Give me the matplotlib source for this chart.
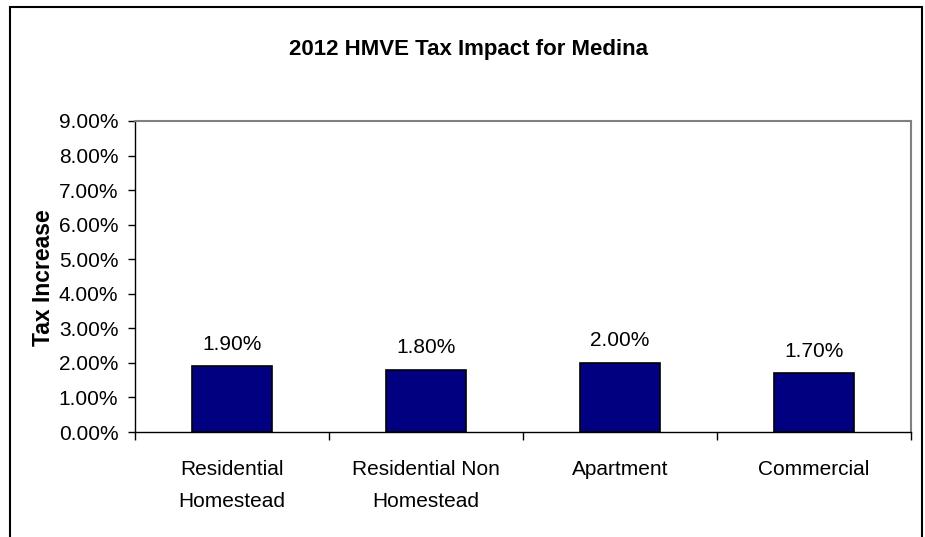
import matplotlib.pyplot as plt
from matplotlib.patches import Rectangle
from matplotlib.ticker import FuncFormatter
import numpy as np

categories = ["Residential\nHomestead", "Residential Non\nHomestead", "Apartment", "Commercial"]
tax_increase = [1.90, 1.80, 2.00, 1.70]
y_ticks = [0, 1, 2, 3, 4, 5, 6, 7, 8, 9]

plt.rcParams['font.family'] = ['Liberation Sans', 'DejaVu Sans']

fs_tick = 15
fs_title = 16
fs_ylab = 16.5

W, H = 925, 537
fig = plt.figure(figsize=(W / 100, H / 100), dpi=100)

# outer chart frame (bottom edge falls outside the image)
fig.patches.append(Rectangle((10 / W, -0.05), 912 / W, (H - 7) / H + 0.05,
                             transform=fig.transFigure, fill=False,
                             edgecolor='black', linewidth=1.5))

left, right, top, bottom = 135, 911, 121, 432
ax = fig.add_axes([left / W, 1 - bottom / H, (right - left) / W, (bottom - top) / H])

x = np.arange(len(categories))
ax.bar(x, tax_increase, width=0.41, color='#000080', edgecolor='black', linewidth=1.2)
for xi, v in zip(x, tax_increase):
    ax.text(xi, v + 0.48, f"{v:.2f}%", ha='center', va='baseline', fontsize=fs_tick)

ax.set_xlim(-0.5, len(categories) - 0.5)
ax.set_ylim(0, 9)
ax.set_yticks(y_ticks)
ax.yaxis.set_major_formatter(FuncFormatter(lambda v, p: f"{v:.2f}%"))
ax.tick_params(axis='y', labelsize=fs_tick, length=5, pad=7, direction='out', width=1)

ax.set_xticks(x)
ax.set_xticklabels(categories, fontsize=fs_tick, linespacing=1.85)
ax.set_xticks(np.arange(len(categories) + 1) - 0.5, minor=True)
ax.tick_params(axis='x', which='major', length=0, pad=20)
ax.tick_params(axis='x', which='minor', length=6, direction='out', width=1)

for side in ['top', 'right']:
    ax.spines[side].set_color('#808080')
    ax.spines[side].set_linewidth(1.5)
for side in ['left', 'bottom']:
    ax.spines[side].set_color('black')
    ax.spines[side].set_linewidth(1)

fig.text(289 / W, 1 - 55 / H, "2012 HMVE Tax Impact for Medina", ha='left', va='baseline',
         fontsize=fs_title, fontweight='bold')
fig.text(43 / W, 1 - 278 / H, "Tax Increase", ha='center', va='center', rotation=90,
         fontsize=fs_ylab, fontweight='bold')

fig.savefig('out.png', dpi=100)
